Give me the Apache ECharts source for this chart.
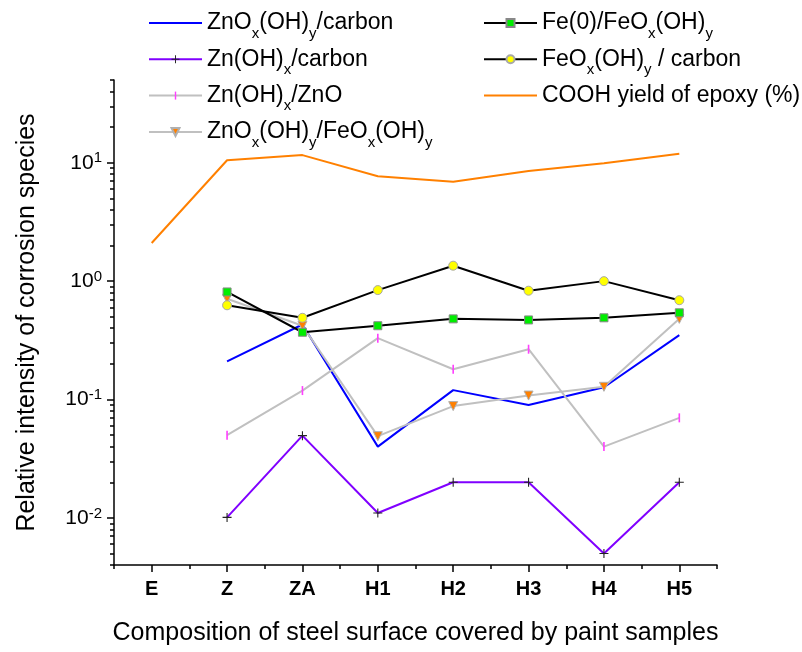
<!DOCTYPE html>
<html>
<head>
<meta charset="utf-8">
<script src="https://cdn.jsdelivr.net/npm/echarts@6/dist/echarts.min.js"></script>
<style>
  html, body { margin: 0; padding: 0; background: #fff; }
  #chart { width: 802px; height: 652px; }
</style>
</head>
<body>
<div id="chart"></div>
<script>
// Paint samples on the x axis
const categories = ['E', 'Z', 'ZA', 'H1', 'H2', 'H3', 'H4', 'H5'];

// Relative intensities (log scale); null where a species was not measured
const znoCarbon  = [null, 0.21, 0.43, 0.040, 0.12, 0.09, 0.127, 0.35];
const znOHCarbon = [null, 0.0101, 0.0495, 0.011, 0.02, 0.02, 0.005, 0.02];
const znOHZnO    = [null, 0.05, 0.119, 0.33, 0.18, 0.266, 0.04, 0.07];
const znoFeo     = [null, 0.71, 0.42, 0.049, 0.088, 0.108, 0.128, 0.48];
const feFeo      = [null, 0.81, 0.37, 0.42, 0.48, 0.47, 0.49, 0.54];
const feoCarbon  = [null, 0.625, 0.49, 0.84, 1.35, 0.83, 1.0, 0.69];
const coohYield  = [2.1, 10.5, 11.6, 7.7, 6.9, 8.5, 9.9, 11.9];

// Log-axis tick positions
const yMajorTicks = [0.01, 0.1, 1, 10];
const yMinorTicks = [
  0.004, 0.005, 0.006, 0.007, 0.008, 0.009,
  0.02, 0.03, 0.04, 0.05, 0.06, 0.07, 0.08, 0.09,
  0.2, 0.3, 0.4, 0.5, 0.6, 0.7, 0.8, 0.9,
  2, 3, 4, 5, 6, 7, 8, 9,
  20, 30, 40, 50
];

// Series names and their legend text with subscripts
const names = {
  znoCarbon:  'ZnOx(OH)y/carbon',
  znOHCarbon: 'Zn(OH)x/carbon',
  znOHZnO:    'Zn(OH)x/ZnO',
  znoFeo:     'ZnOx(OH)y/FeOx(OH)y',
  feFeo:      'Fe(0)/FeOx(OH)y',
  feoCarbon:  'FeOx(OH)y / carbon',
  cooh:       'COOH yield of epoxy (%)'
};
const legendText = {
  'ZnOx(OH)y/carbon':        'ZnO{s|x}(OH){s|y}/carbon',
  'Zn(OH)x/carbon':          'Zn(OH){s|x}/carbon',
  'Zn(OH)x/ZnO':             'Zn(OH){s|x}/ZnO',
  'ZnOx(OH)y/FeOx(OH)y':     'ZnO{s|x}(OH){s|y}/FeO{s|x}(OH){s|y}',
  'Fe(0)/FeOx(OH)y':         'Fe(0)/FeO{s|x}(OH){s|y}',
  'FeOx(OH)y / carbon':      'FeO{s|x}(OH){s|y} / carbon',
  'COOH yield of epoxy (%)': 'COOH yield of epoxy (%)'
};

const FONT = 'Liberation Sans, Arial, sans-serif';
// Marker shapes; zero-length segments at the corners keep a square bounding box
const CROSS = 'path://M4.4,0H5.6V4.4H10V5.6H5.6V10H4.4V5.6H0V4.4H4.4Z';
const BAR = 'path://M0,0L0,0M4.1,0H5.9V10H4.1ZM10,10L10,10';
const TRI_DOWN = 'path://M0,0H10L5,8.66Z';
const LINE_ICON = 'path://M0,0H52V2H0Z';

function lineSeries(name, data, lineColor, symbol, size, itemStyle) {
  return {
    name: name,
    type: 'line',
    data: data,
    xAxisIndex: 0,
    yAxisIndex: 0,
    symbol: symbol,
    symbolSize: size,
    showSymbol: symbol !== 'none',
    lineStyle: { color: lineColor, width: 2 },
    itemStyle: itemStyle,
    emphasis: { disabled: true },
    animation: false
  };
}

const series = [
  lineSeries(names.znoCarbon, znoCarbon, '#0000FF', 'none', 0, { color: '#0000FF' }),
  lineSeries(names.znOHCarbon, znOHCarbon, '#8000FF', CROSS, 9, { color: '#222' }),
  lineSeries(names.znOHZnO, znOHZnO, '#C0C0C0', BAR, 9, { color: '#FF40FF' }),
  lineSeries(names.znoFeo, znoFeo, '#C0C0C0', TRI_DOWN, 9, { color: '#FF8000', borderColor: '#B0B0B0', borderWidth: 1 }),
  lineSeries(names.feFeo, feFeo, '#000000', 'rect', 8, { color: '#00EE00', borderColor: '#888', borderWidth: 1 }),
  lineSeries(names.feoCarbon, feoCarbon, '#000000', 'circle', 9, { color: '#FFFF00', borderColor: '#A8A8A8', borderWidth: 1 }),
  lineSeries(names.cooh, coohYield, '#FF8000', 'none', 0, { color: '#FF8000' })
];

const legendTextStyle = {
  fontFamily: FONT,
  fontSize: 23,
  lineHeight: 36,
  color: '#000',
  rich: {
    s: { fontFamily: FONT, fontSize: 15, lineHeight: 15, verticalAlign: 'bottom', color: '#000' }
  }
};

function legendBlock(left, items) {
  return {
    orient: 'vertical',
    left: left,
    top: 0,
    itemWidth: 53,
    itemHeight: 10,
    itemGap: 0.3,
    selectedMode: false,
    textStyle: legendTextStyle,
    formatter: function (n) { return legendText[n]; },
    data: items
  };
}

const option = {
  backgroundColor: '#fff',
  animation: false,
  grid: { left: 114, right: 85, top: 80, bottom: 87, containLabel: false },
  legend: [
    legendBlock(143, [
      { name: names.znoCarbon, icon: LINE_ICON },
      names.znOHCarbon,
      names.znOHZnO,
      names.znoFeo
    ]),
    legendBlock(478, [
      names.feFeo,
      names.feoCarbon,
      { name: names.cooh, icon: LINE_ICON }
    ])
  ],
  xAxis: [
    {
      type: 'category',
      data: categories,
      boundaryGap: true,
      position: 'bottom',
      name: 'Composition of steel surface covered by paint samples',
      nameLocation: 'middle',
      nameGap: 56,
      nameTextStyle: { fontFamily: FONT, fontSize: 25, color: '#000' },
      axisLine: { show: true, lineStyle: { color: '#000', width: 1.5 } },
      axisTick: { show: true, alignWithLabel: true, inside: false, length: 7, lineStyle: { color: '#000', width: 1.5 } },
      axisLabel: { fontFamily: FONT, fontSize: 20, fontWeight: 'bold', color: '#000', margin: 14 },
      splitLine: { show: false }
    },
    {
      type: 'category',
      data: categories,
      boundaryGap: true,
      position: 'bottom',
      axisLine: { show: false },
      axisTick: { show: true, alignWithLabel: false, inside: false, length: 4, lineStyle: { color: '#000', width: 1.5 } },
      axisLabel: { show: false },
      splitLine: { show: false }
    }
  ],
  yAxis: [
    {
      type: 'log',
      logBase: 10,
      min: 0.004,
      max: 50,
      position: 'left',
      name: 'Relative intensity of corrosion species',
      nameLocation: 'middle',
      nameGap: 74,
      nameTextStyle: { fontFamily: FONT, fontSize: 25, color: '#000' },
      axisLine: { show: true, lineStyle: { color: '#000', width: 1.5 } },
      axisTick: { show: true, inside: false, length: 7, customValues: yMajorTicks, lineStyle: { color: '#000', width: 1.5 } },
      axisLabel: {
        customValues: yMajorTicks,
        margin: 12,
        fontFamily: FONT,
        fontSize: 21,
        lineHeight: 24,
        color: '#000',
        formatter: function (v) {
          return '10{sup|' + Math.round(Math.log10(v)) + '}';
        },
        rich: {
          sup: { fontFamily: FONT, fontSize: 15, lineHeight: 14, verticalAlign: 'top', color: '#000' }
        }
      },
      splitLine: { show: false },
      minorTick: { show: false }
    },
    {
      type: 'log',
      logBase: 10,
      min: 0.004,
      max: 50,
      position: 'left',
      axisLine: { show: false },
      axisTick: { show: true, inside: false, length: 4, customValues: yMinorTicks, lineStyle: { color: '#000', width: 1.5 } },
      axisLabel: { show: false },
      splitLine: { show: false }
    }
  ],
  series: series
};

const chart = echarts.init(document.getElementById('chart'), null, { renderer: 'canvas' });
chart.setOption(option);
</script>
</body>
</html>
